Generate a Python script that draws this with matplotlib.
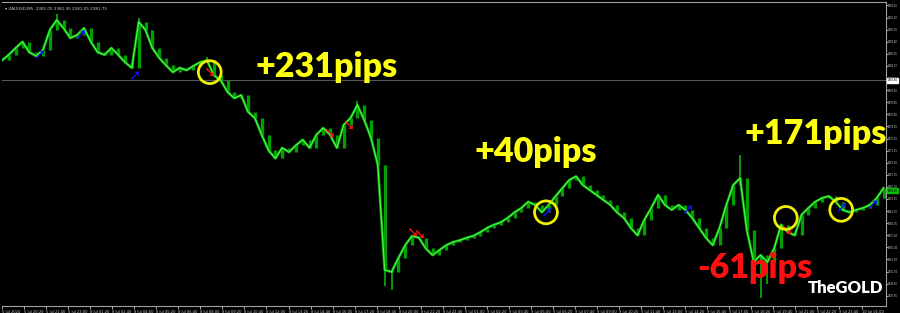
"""Gold M5 chart with trade signals, redrawn in matplotlib."""

import matplotlib

matplotlib.use("Agg")
import matplotlib.pyplot as plt
import numpy as np

# close prices, one per bar
close = [
    2385.6, 2386.5, 2387.6, 2388.6, 2386.9, 2386.3, 2387.3, 2390.5, 2392.1, 2390.8,
    2389.2, 2389.7, 2390.8, 2388.6, 2386.9, 2386.5, 2387.6, 2386.5, 2385.3, 2384.4,
    2391.8, 2390.5, 2387.6, 2386.0, 2384.8, 2383.7, 2384.4, 2384.0, 2384.7, 2385.3,
    2385.6, 2383.2, 2382.4, 2380.5, 2379.5, 2380.0, 2377.3, 2376.3, 2373.6, 2371.1,
    2369.8, 2371.5, 2370.8, 2371.9, 2372.8, 2371.5, 2373.6, 2374.7, 2373.6, 2371.5,
    2375.2, 2376.3, 2378.4, 2376.0, 2373.1, 2368.7, 2351.8, 2351.5, 2353.7, 2355.8,
    2357.3, 2357.0, 2355.3, 2354.2, 2355.0, 2355.8, 2356.3, 2356.6, 2357.0, 2357.3,
    2357.9, 2358.6, 2359.1, 2359.5, 2360.2, 2361.1, 2361.8, 2362.8, 2362.3, 2361.1,
    2362.3, 2363.7, 2365.0, 2366.3, 2366.9, 2365.5, 2364.7, 2363.9, 2363.1, 2362.3,
    2361.1, 2360.2, 2358.6, 2357.4, 2359.9, 2361.8, 2363.9, 2362.3, 2361.5, 2362.3,
    2361.5, 2360.2, 2358.6, 2357.0, 2355.8, 2358.6, 2362.3, 2365.5, 2366.6, 2358.2,
    2353.1, 2354.2, 2353.1, 2355.3, 2359.1, 2357.9, 2357.4, 2360.7, 2361.8, 2362.8,
    2363.4, 2363.7, 2362.8, 2361.5, 2361.1, 2361.5, 2361.8, 2362.3, 2363.4, 2365.0,
]

# long wicks that stick out of the close line
wick_bar = [8, 20, 30, 52, 56, 57, 108, 111, 112]
wick_price = [2393.0, 2392.4, 2386.2, 2379.0, 2349.2, 2348.6, 2370.4, 2347.3, 2349.5]

# signal arrows (bar position, price)
buy_bar = [5.5, 11.4, 19.3, 79.6, 100.3, 122.8, 127.3]
buy_price = [2386.5, 2389.7, 2383.2, 2361.1, 2361.5, 2361.8, 2362.3]
sell_bar = [30.4, 47.9, 50.7, 60.0, 61.0, 114.7]
sell_price = [2383.7, 2373.9, 2375.2, 2357.9, 2357.6, 2358.2]

# yellow circles on the trade entries
circle_bar = [30.4, 79.6, 114.7, 122.8]
circle_price = [2383.7, 2361.1, 2360.2, 2361.5]

line_price = 2382.40
last_price = 2364.60

price_ticks = [
    2394.45, 2392.50, 2390.55, 2388.60, 2386.65, 2384.70, 2382.75, 2380.80, 2378.85,
    2376.90, 2374.95, 2373.00, 2371.05, 2369.10, 2367.15, 2365.20, 2363.25, 2361.30,
    2359.35, 2357.40, 2355.45, 2353.50, 2351.55, 2349.60, 2347.65,
]
time_labels = [
    "5 Jul 2024", "5 Jul 20:20", "5 Jul 21:40", "5 Jul 23:00", "8 Jul 01:20",
    "8 Jul 02:40", "8 Jul 04:00", "8 Jul 05:20", "8 Jul 06:40", "8 Jul 08:00",
    "8 Jul 09:20", "8 Jul 10:40", "8 Jul 12:00", "8 Jul 13:20", "8 Jul 14:40",
    "8 Jul 16:00", "8 Jul 17:20", "8 Jul 18:40", "8 Jul 20:00", "8 Jul 21:20",
    "8 Jul 22:40", "9 Jul 01:00", "9 Jul 02:20", "9 Jul 03:40", "9 Jul 05:00",
    "9 Jul 06:20", "9 Jul 07:40", "9 Jul 09:00", "9 Jul 10:20", "9 Jul 11:40",
    "9 Jul 13:00", "9 Jul 14:20", "9 Jul 15:40", "9 Jul 17:00", "9 Jul 18:20",
    "9 Jul 19:40", "9 Jul 21:00", "9 Jul 22:20", "9 Jul 23:40", "10 Jul 01:00",
]

fig = plt.figure(figsize=(9, 3.13), dpi=100, facecolor="black")
ax = fig.add_axes([0.002, 0.0224, 0.982, 0.971])
ax.set_facecolor("black")

x = np.arange(len(close))
c = np.asarray(close)
# bodies: vertical bars between consecutive closes
ax.vlines(x[1:], np.minimum(c[:-1], c[1:]), np.maximum(c[:-1], c[1:]),
          color="#00a000", lw=2.4, zorder=2)
ax.plot(x, c, color="#0a900a", lw=2.0, zorder=2)
ax.plot(x, c, color="#44ff44", lw=0.9, zorder=3)
ax.vlines(wick_bar, c[wick_bar], wick_price, color="#10b010", lw=1.2, zorder=2)

ax.axhline(line_price, color="#555555", lw=0.8, zorder=1)

for b, p in zip(buy_bar, buy_price):
    ax.text(b, p, "\u279a", color="#1010ff", fontsize=10.5, ha="center", va="center",
            fontweight="bold", zorder=5)
for b, p in zip(sell_bar, sell_price):
    ax.text(b, p, "\u2798", color="#ff1010", fontsize=10.5, ha="center", va="center",
            fontweight="bold", zorder=5)

ax.scatter(circle_bar, circle_price, s=270, facecolors="none", edgecolors="#f0f000",
           linewidths=2.0, zorder=6)

ax.set_xlim(-0.03, len(close) - 0.7)
ax.set_ylim(2346.0, 2395.0)

# axes look
ax.spines["left"].set_visible(False)
for side in ["right", "bottom", "top"]:
    ax.spines[side].set_color("#a0a0a0")
    ax.spines[side].set_linewidth(0.8)

ax.yaxis.tick_right()
ax.set_yticks(price_ticks)
ax.set_yticklabels([f"{p:.2f}" for p in price_ticks], family="Liberation Sans")
ax.tick_params(axis="y", colors="#c8c8c8", labelsize=2.0, length=1.5, width=0.6, pad=0.3)

tick_pos = np.linspace(0, len(close) - 1, len(time_labels) + 1)[:-1]
ax.set_xticks(tick_pos)
ax.set_xticklabels(time_labels, ha="left")
ax.tick_params(axis="x", colors="#c8c8c8", labelsize=2.6, length=2, width=0.6, pad=1)

# price tags on the axis
tag = dict(transform=ax.get_yaxis_transform(), fontsize=2.0, va="center", ha="left",
           family="Liberation Sans", clip_on=False)
ax.text(1.002, line_price, f"{line_price:.2f}", color="black",
        bbox=dict(boxstyle="square,pad=0.2", fc="white", ec="white"), **tag)
ax.text(1.002, last_price, f"{last_price:.2f}", color="black",
        bbox=dict(boxstyle="square,pad=0.2", fc="#00c000", ec="#00c000"), **tag)

ax.text(0.004, 0.985, "\u25be XAUUSD,M5  2381.05 2381.95 2381.05 2381.75",
        transform=ax.transAxes, fontsize=3.0, color="#d0d0d0", ha="left", va="top")

big = dict(fontweight="heavy", family=["Lato", "Liberation Sans"],
           ha="center", va="center", transform=ax.transAxes, zorder=8)
ax.text(0.367, 0.785, "+231pips", color="#ffff10", fontsize=24.5, **big)
ax.text(0.604, 0.507, "+40pips", color="#ffff10", fontsize=24.5, **big)
ax.text(0.921, 0.566, "+171pips", color="#ffff10", fontsize=24.5, **big)
ax.text(0.852, 0.125, "-61pips", color="#ff1010", fontsize=24.5, **big)
ax.text(0.955, 0.059, "TheGOLD", color="white", fontsize=12, **big)

fig.savefig("out.png", dpi=100, facecolor="black")
